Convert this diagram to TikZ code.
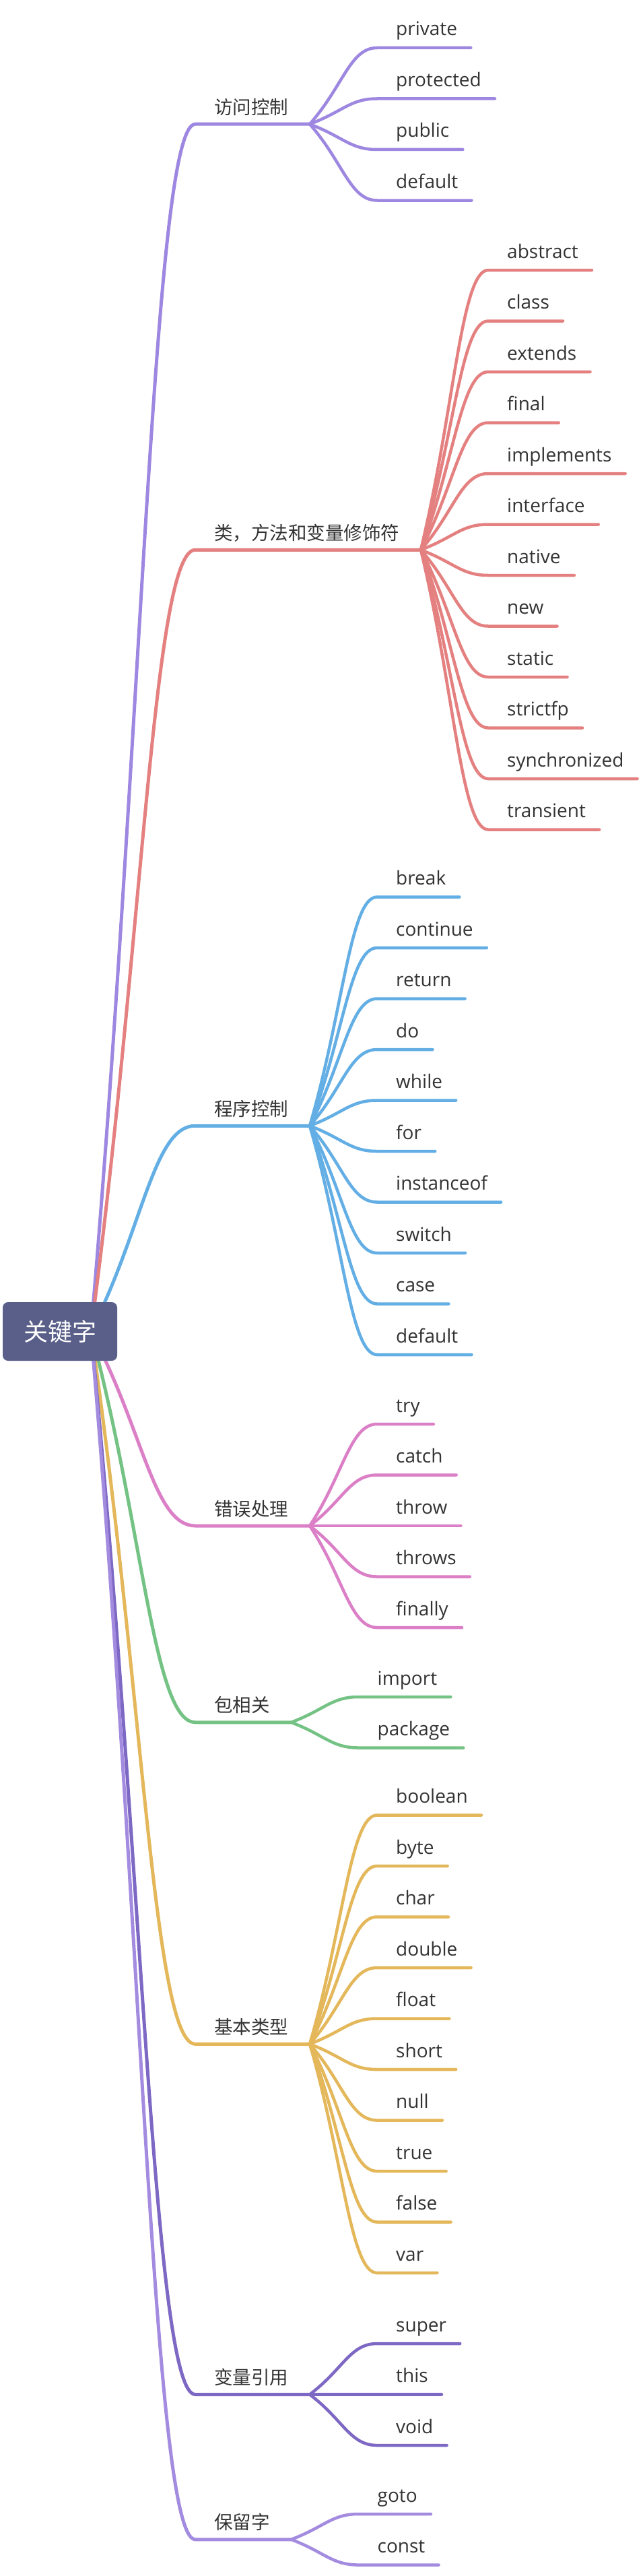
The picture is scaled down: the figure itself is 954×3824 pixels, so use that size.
\documentclass[tikz,border=0pt]{standalone}
\usepackage{fontspec}
\setmainfont{Open Sans}
\newfontfamily\cjk{Noto Sans CJK SC}
\usetikzlibrary{calc}
\definecolor{slate}{RGB}{89,95,136}
\definecolor{lilac}{RGB}{157,135,224}
\definecolor{salmon}{RGB}{228,128,128}
\definecolor{sky}{RGB}{99,174,228}
\definecolor{orchid}{RGB}{219,127,199}
\definecolor{leaf}{RGB}{116,194,132}
\definecolor{honey}{RGB}{227,183,90}
\definecolor{plum}{RGB}{125,104,196}
\definecolor{mauve}{RGB}{163,139,224}
\definecolor{ink}{RGB}{51,51,51}
\tikzset{
  root/.style={fill=slate,text=white,rounded corners=8pt,minimum width=170pt,
    minimum height=87pt,inner sep=0pt,font=\cjk\fontsize{36}{40}\selectfont},
  topic/.style={anchor=base west,inner sep=0pt,text=ink,font=\cjk\fontsize{27.5}{30}\selectfont},
  word/.style={anchor=base west,inner sep=0pt,text=ink,font=\fontsize{28}{30}\selectfont},
  branch/.style={draw=#1,line width=5pt,line cap=round,line join=round},
  twig/.style={draw=#1,line width=4.5pt,line cap=round,line join=round},
  curvy/.style={to path={let \p1=(\tikztostart),\p2=(\tikztotarget),\p3=($(\p1)!.6!(\p2)$) in
    .. controls ($(\p1)!.5!(\p2)$) and (\x3,\y2) .. (\tikztotarget)}},
}
\begin{document}
\begin{tikzpicture}[x=1pt,y=-1pt]
  \useasboundingbox (0,0) rectangle (954,3824);
  \coordinate (o) at (135,1976.5);

  % access control
  \coordinate (acc-in) at (290,184.25);
  \coordinate (acc-f) at (460,184.25);
  \node[topic] (acc) at (318,169.25) {访问控制};
  \draw[branch=lilac] (o) to[curvy] (acc-in) -- (acc-f);
  \foreach \w [count=\i from 0] in {private,protected,public,default}{
    \node[word] (acc-\i) at (588,{53+\i*75.5}) {\w};
    \draw[twig=lilac] (acc-f) to[curvy] ([shift={(-28,18)}]acc-\i.base west) -- ([shift={(20,18)}]acc-\i.base east);
  }

  % modifiers
  \coordinate (mod-in) at (290,816.25);
  \coordinate (mod-f) at (625,816.25);
  \node[topic] (mod) at (318,801.25) {类，方法和变量修饰符};
  \draw[branch=salmon] (o) to[curvy] (mod-in) -- (mod-f);
  \foreach \w [count=\i from 0] in {abstract,class,extends,final,implements,interface,native,new,static,strictfp,synchronized,transient}{
    \node[word] (mod-\i) at (753,{383+\i*75.5}) {\w};
    \draw[twig=salmon] (mod-f) to[curvy] ([shift={(-28,18)}]mod-\i.base west) -- ([shift={(20,18)}]mod-\i.base east);
  }

  % flow control
  \coordinate (flow-in) at (290,1671.25);
  \coordinate (flow-f) at (460,1671.25);
  \node[topic] (flow) at (318,1656.25) {程序控制};
  \draw[branch=sky] (o) to[curvy] (flow-in) -- (flow-f);
  \foreach \w [count=\i from 0] in {break,continue,return,do,while,for,instanceof,switch,case,default}{
    \node[word] (flow-\i) at (588,{1313.5+\i*75.5}) {\w};
    \draw[twig=sky] (flow-f) to[curvy] ([shift={(-28,18)}]flow-\i.base west) -- ([shift={(20,18)}]flow-\i.base east);
  }

  % errors
  \coordinate (err-in) at (290,2265);
  \coordinate (err-f) at (460,2265);
  \node[topic] (err) at (318,2250) {错误处理};
  \draw[branch=orchid] (o) to[curvy] (err-in) -- (err-f);
  \foreach \w [count=\i from 0] in {try,catch,throw,throws,finally}{
    \node[word] (err-\i) at (588,{2096+\i*75.5}) {\w};
    \draw[twig=orchid] (err-f) to[curvy] ([shift={(-28,18)}]err-\i.base west) -- ([shift={(20,18)}]err-\i.base east);
  }

  % packages
  \coordinate (pkg-in) at (290,2556.75);
  \coordinate (pkg-f) at (432.5,2556.75);
  \node[topic] (pkg) at (318,2541.75) {包相关};
  \draw[branch=leaf] (o) to[curvy] (pkg-in) -- (pkg-f);
  \foreach \w [count=\i from 0] in {import,package}{
    \node[word] (pkg-\i) at (560.5,{2501+\i*75.5}) {\w};
    \draw[twig=leaf] (pkg-f) to[curvy] ([shift={(-28,18)}]pkg-\i.base west) -- ([shift={(20,18)}]pkg-\i.base east);
  }

  % primitive types
  \coordinate (prim-in) at (290,3034.25);
  \coordinate (prim-f) at (460,3034.25);
  \node[topic] (prim) at (318,3019.25) {基本类型};
  \draw[branch=honey] (o) to[curvy] (prim-in) -- (prim-f);
  \foreach \w [count=\i from 0] in {boolean,byte,char,double,float,short,null,true,false,var}{
    \node[word] (prim-\i) at (588,{2676.5+\i*75.5}) {\w};
    \draw[twig=honey] (prim-f) to[curvy] ([shift={(-28,18)}]prim-\i.base west) -- ([shift={(20,18)}]prim-\i.base east);
  }

  % references
  \coordinate (ref-in) at (290,3554.5);
  \coordinate (ref-f) at (460,3554.5);
  \node[topic] (ref) at (318,3539.5) {变量引用};
  \draw[branch=plum] (o) to[curvy] (ref-in) -- (ref-f);
  \foreach \w [count=\i from 0] in {super,this,void}{
    \node[word] (ref-\i) at (588,{3461+\i*75.5}) {\w};
    \draw[twig=plum] (ref-f) to[curvy] ([shift={(-28,18)}]ref-\i.base west) -- ([shift={(20,18)}]ref-\i.base east);
  }

  % reserved
  \coordinate (res-in) at (290,3769.75);
  \coordinate (res-f) at (432.5,3769.75);
  \node[topic] (res) at (318,3754.75) {保留字};
  \draw[branch=mauve] (o) to[curvy] (res-in) -- (res-f);
  \foreach \w [count=\i from 0] in {goto,const}{
    \node[word] (res-\i) at (560.5,{3714+\i*75.5}) {\w};
    \draw[twig=mauve] (res-f) to[curvy] ([shift={(-28,18)}]res-\i.base west) -- ([shift={(20,18)}]res-\i.base east);
  }

  \node[root] (kw) at (89,1976.5) {关键字};
\end{tikzpicture}
\end{document}
